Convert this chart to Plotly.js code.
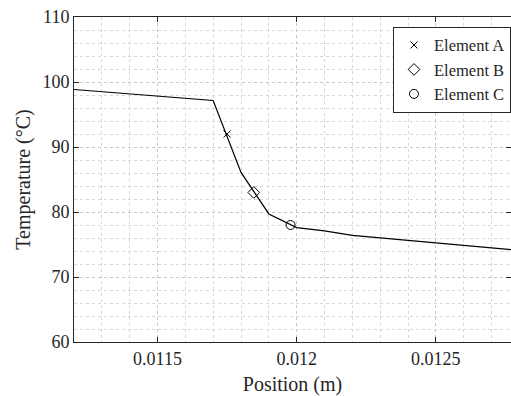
<!DOCTYPE html>
<html>
<head>
<meta charset="utf-8">
<script src="https://cdn.plot.ly/plotly-3.0.1.min.js"></script>
<style>html,body{margin:0;padding:0;background:#fff;}#chart{width:511px;height:396px;}</style>
</head>
<body>
<div id="chart"></div>
<script>
// Temperature profile (line)
const positions = [0.0112, 0.0117, 0.0118, 0.0119, 0.0120, 0.0121, 0.0122, 0.0128];
const temperatures = [98.85, 97.15, 86.1, 79.7, 77.6, 77.1, 76.4, 74.1];
// Element markers
const elementNames = ["Element A", "Element B", "Element C"];
const elementX = [0.01175, 0.011846, 0.011978];
const elementY = [92.0, 83.0, 78.0];
const elementSymbols = ["x-thin-open", "diamond-open", "circle-open"];
const elementSizes = [7, 9, 9];

const textColor = "#262626";
const fontFam = "Liberation Serif";

const traces = [{
  x: positions, y: temperatures, mode: "lines", type: "scatter",
  line: {color: "#000", width: 1.2}, showlegend: false, hoverinfo: "skip"
}];
elementNames.forEach((n, i) => {
  traces.push({
    x: [elementX[i]], y: [elementY[i]], mode: "markers", type: "scatter", name: n,
    marker: {symbol: elementSymbols[i], size: elementSizes[i], color: "#000",
             line: {color: "#000", width: 1}}
  });
});

const layout = {
  width: 511, height: 396,
  margin: {l: 74, r: 0, t: 17, b: 54},
  paper_bgcolor: "#fff", plot_bgcolor: "#fff",
  font: {family: fontFam, color: textColor, size: 18},
  showlegend: true,
  legend: {
    x: 1, xanchor: "right", y: 0.97, yanchor: "top",
    bgcolor: "#fff", bordercolor: textColor, borderwidth: 1,
    font: {family: fontFam, size: 16.5, color: textColor},
    tracegroupgap: 0, itemwidth: 30
  },
  xaxis: {
    range: [0.0112, 0.01277],
    tickvals: [0.0115, 0.012, 0.0125],
    ticktext: ["0.0115", "0.012", "0.0125"],
    ticks: "inside", ticklen: 5, tickcolor: textColor,
    showline: true, linecolor: textColor, linewidth: 1, mirror: "ticks",
    showgrid: true, gridcolor: "#c8c8c8", griddash: "dot", gridwidth: 1,
    minor: {dtick: 0.0001, tick0: 0.0112, showgrid: true, gridcolor: "#d8d8d8", griddash: "dot", gridwidth: 1},
    zeroline: false,
    tickfont: {family: fontFam, size: 18},
    title: {text: "Position (m)", font: {family: fontFam, size: 20}, standoff: 10},
    automargin: false
  },
  yaxis: {
    range: [60, 110], dtick: 10,
    ticks: "inside", ticklen: 5, tickcolor: textColor,
    showline: true, linecolor: textColor, linewidth: 1, mirror: "ticks",
    showgrid: true, gridcolor: "#c8c8c8", griddash: "dot", gridwidth: 1,
    minor: {dtick: 2, showgrid: true, gridcolor: "#d8d8d8", griddash: "dot", gridwidth: 1},
    zeroline: false,
    tickfont: {family: fontFam, size: 18},
    title: {text: "Temperature (°C)", font: {family: fontFam, size: 20}, standoff: 6},
    automargin: false
  }
};

Plotly.newPlot("chart", traces, layout, {displayModeBar: false, staticPlot: true});
</script>
</body>
</html>
